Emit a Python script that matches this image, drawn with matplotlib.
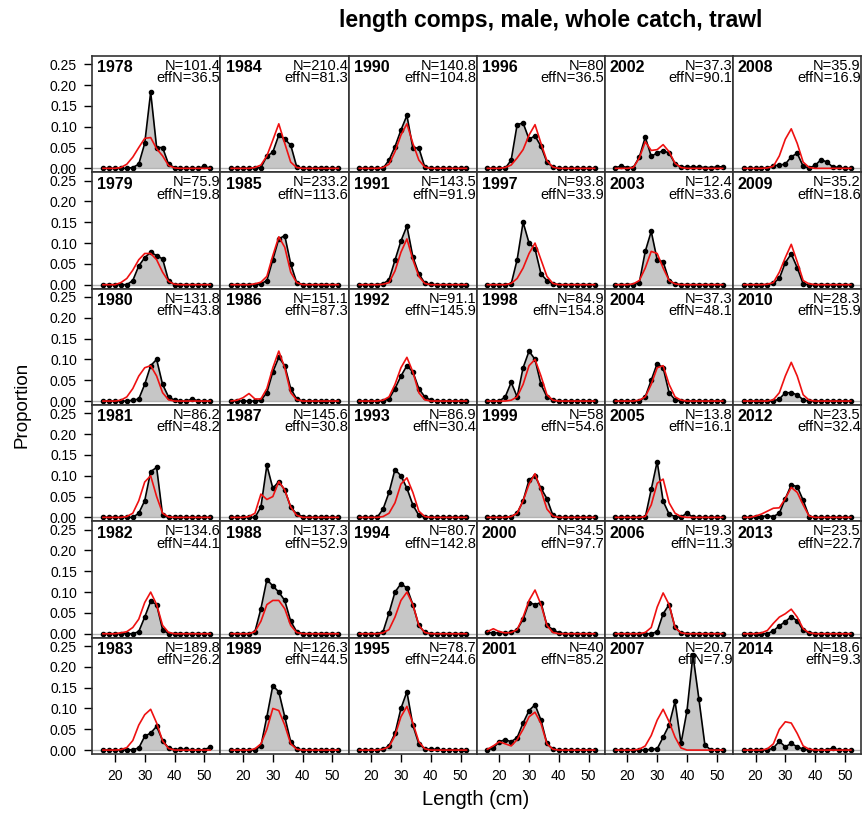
import matplotlib
matplotlib.use('Agg')
import matplotlib.pyplot as plt
from matplotlib.ticker import FormatStrFormatter

plt.rcParams['font.family'] = ['Liberation Sans', 'DejaVu Sans']

# length bins (cm)
bins = [16, 18, 20, 22, 24, 26, 28, 30, 32, 34, 36, 38, 40, 42, 44, 46, 48, 50, 52]

years = [1978, 1979, 1980, 1981, 1982, 1983,
         1984, 1985, 1986, 1987, 1988, 1989,
         1990, 1991, 1992, 1993, 1994, 1995,
         1996, 1997, 1998, 1999, 2000, 2001,
         2002, 2003, 2004, 2005, 2006, 2007,
         2008, 2009, 2010, 2012, 2013, 2014]

n_vals = [101.4, 75.9, 131.8, 86.2, 134.6, 189.8,
          210.4, 233.2, 151.1, 145.6, 137.3, 126.3,
          140.8, 143.5, 91.1, 86.9, 80.7, 78.7,
          80, 93.8, 84.9, 58, 34.5, 40,
          37.3, 12.4, 37.3, 13.8, 19.3, 20.7,
          35.9, 35.2, 28.3, 23.5, 23.5, 18.6]

effn_vals = [36.5, 19.8, 43.8, 48.2, 44.1, 26.2,
             81.3, 113.6, 87.3, 30.8, 52.9, 44.5,
             104.8, 91.9, 145.9, 30.4, 142.8, 244.6,
             36.5, 33.9, 154.8, 54.6, 97.7, 85.2,
             90.1, 33.6, 48.1, 16.1, 11.3, 7.9,
             16.9, 18.6, 15.9, 32.4, 22.7, 9.3]

# observed proportions (one row per year, same order as years)
observed = [
    [0, 0, 0, 0, 0, 0.002, 0.01, 0.06, 0.183, 0.05, 0.05, 0.01, 0.002, 0, 0, 0, 0, 0.005, 0],
    [0, 0, 0, 0, 0, 0.01, 0.045, 0.065, 0.078, 0.07, 0.062, 0.01, 0, 0, 0, 0, 0, 0, 0],
    [0, 0, 0, 0, 0, 0.002, 0.005, 0.04, 0.085, 0.1, 0.04, 0.01, 0.002, 0, 0, 0.005, 0, 0, 0],
    [0, 0, 0, 0, 0, 0, 0.01, 0.04, 0.11, 0.12, 0.005, 0, 0, 0, 0, 0, 0, 0, 0],
    [0, 0, 0, 0, 0, 0, 0.005, 0.04, 0.078, 0.07, 0.01, 0, 0, 0, 0, 0, 0, 0, 0],
    [0, 0, 0, 0, 0, 0.001, 0.005, 0.033, 0.041, 0.057, 0.023, 0.005, 0.001, 0.002, 0.002, 0, 0, 0.001, 0.007],
    [0, 0, 0, 0, 0, 0.002, 0.029, 0.039, 0.08, 0.07, 0.056, 0.004, 0, 0, 0, 0.002, 0, 0, 0],
    [0, 0, 0, 0, 0, 0.002, 0.01, 0.06, 0.11, 0.118, 0.05, 0.005, 0, 0, 0, 0, 0, 0, 0],
    [0, 0, 0, 0, 0, 0.002, 0.02, 0.07, 0.105, 0.085, 0.03, 0.005, 0, 0, 0, 0, 0, 0, 0],
    [0, 0, 0, 0, 0, 0.025, 0.125, 0.07, 0.086, 0.066, 0.025, 0.008, 0.002, 0, 0, 0, 0, 0, 0],
    [0, 0, 0, 0, 0.005, 0.06, 0.13, 0.115, 0.1, 0.08, 0.03, 0.005, 0, 0, 0, 0, 0, 0, 0],
    [0, 0, 0, 0, 0, 0.01, 0.08, 0.155, 0.14, 0.08, 0.02, 0.003, 0, 0, 0, 0, 0, 0, 0],
    [0, 0, 0, 0, 0, 0.02, 0.052, 0.092, 0.127, 0.049, 0.049, 0.003, 0.001, 0, 0, 0, 0, 0, 0],
    [0, 0, 0, 0, 0.002, 0.012, 0.059, 0.105, 0.141, 0.067, 0.026, 0.004, 0.001, 0, 0, 0, 0, 0, 0],
    [0, 0, 0, 0, 0, 0.005, 0.03, 0.06, 0.085, 0.07, 0.03, 0.01, 0.002, 0, 0, 0, 0, 0, 0],
    [0, 0, 0, 0, 0.02, 0.06, 0.115, 0.1, 0.07, 0.03, 0.005, 0, 0, 0, 0, 0, 0, 0, 0],
    [0, 0, 0, 0, 0.005, 0.05, 0.1, 0.12, 0.11, 0.07, 0.02, 0.003, 0, 0, 0, 0, 0, 0, 0],
    [0, 0, 0, 0, 0.002, 0.01, 0.04, 0.1, 0.14, 0.06, 0.015, 0.003, 0.002, 0.002, 0, 0, 0, 0, 0],
    [0, 0, 0, 0, 0.02, 0.105, 0.109, 0.07, 0.078, 0.053, 0.015, 0.003, 0, 0, 0, 0, 0, 0, 0],
    [0, 0, 0, 0, 0.002, 0.06, 0.15, 0.1, 0.086, 0.026, 0.01, 0.002, 0, 0, 0, 0, 0, 0, 0],
    [0, 0, 0, 0.01, 0.045, 0.01, 0.08, 0.12, 0.1, 0.04, 0.01, 0.002, 0, 0, 0, 0, 0, 0, 0],
    [0, 0, 0, 0, 0.002, 0.01, 0.04, 0.09, 0.1, 0.07, 0.045, 0.005, 0, 0, 0, 0, 0, 0, 0],
    [0.003, 0.002, 0.002, 0.002, 0.003, 0.01, 0.035, 0.075, 0.07, 0.075, 0.02, 0.01, 0.002, 0, 0, 0, 0, 0, 0],
    [0, 0.005, 0.02, 0.025, 0.02, 0.03, 0.065, 0.095, 0.109, 0.072, 0.016, 0.002, 0, 0, 0, 0, 0, 0, 0],
    [0.002, 0.005, 0.002, 0.002, 0.027, 0.075, 0.029, 0.037, 0.042, 0.037, 0.011, 0.003, 0.003, 0.003, 0.003, 0.002, 0.002, 0.003, 0.004],
    [0, 0, 0, 0, 0.005, 0.08, 0.128, 0.06, 0.055, 0.01, 0.002, 0, 0, 0, 0, 0, 0, 0, 0],
    [0, 0, 0, 0, 0, 0.01, 0.05, 0.09, 0.08, 0.02, 0.003, 0, 0, 0, 0, 0, 0, 0, 0],
    [0, 0, 0, 0, 0, 0, 0.067, 0.134, 0.039, 0.008, 0.002, 0, 0.011, 0, 0, 0, 0, 0, 0],
    [0, 0, 0, 0, 0, 0, 0, 0.005, 0.048, 0.07, 0.015, 0.002, 0, 0, 0, 0, 0, 0, 0],
    [0, 0, 0, 0, 0, 0, 0.002, 0.003, 0.031, 0.06, 0.117, 0.016, 0.094, 0.228, 0.123, 0.013, 0, 0, 0],
    [0, 0, 0, 0, 0.001, 0.006, 0.008, 0.01, 0.028, 0.036, 0.005, 0.001, 0.007, 0.021, 0.015, 0.003, 0.003, 0, 0],
    [0, 0, 0, 0, 0, 0.004, 0.015, 0.053, 0.074, 0.041, 0.002, 0, 0, 0, 0, 0, 0, 0, 0],
    [0, 0, 0, 0, 0, 0, 0.005, 0.02, 0.02, 0.015, 0.003, 0, 0, 0, 0, 0, 0, 0, 0],
    [0, 0, 0, 0.002, 0.004, 0.002, 0.01, 0.045, 0.078, 0.074, 0.041, 0.002, 0, 0, 0, 0, 0, 0, 0],
    [0, 0, 0, 0, 0, 0.007, 0.019, 0.029, 0.041, 0.031, 0.008, 0.002, 0, 0, 0, 0, 0, 0, 0],
    [0, 0, 0, 0, 0, 0.005, 0.021, 0.008, 0.016, 0.008, 0.002, 0, 0, 0, 0, 0.005, 0, 0, 0],
]

# expected (model fit) proportions
expected = [
    [0, 0, 0, 0.002, 0.01, 0.027, 0.05, 0.072, 0.074, 0.047, 0.03, 0.007, 0.001, 0, 0, 0, 0, 0, 0],
    [0, 0, 0, 0.005, 0.015, 0.035, 0.06, 0.075, 0.075, 0.06, 0.03, 0.008, 0.001, 0, 0, 0, 0, 0, 0],
    [0, 0, 0, 0.002, 0.01, 0.03, 0.06, 0.08, 0.085, 0.06, 0.02, 0.003, 0, 0, 0, 0, 0, 0, 0],
    [0, 0, 0, 0, 0.002, 0.01, 0.04, 0.085, 0.1, 0.05, 0.01, 0.001, 0, 0, 0, 0, 0, 0, 0],
    [0, 0, 0, 0.002, 0.005, 0.015, 0.035, 0.075, 0.1, 0.07, 0.02, 0.003, 0, 0, 0, 0, 0, 0, 0],
    [0, 0, 0, 0.001, 0.006, 0.023, 0.06, 0.085, 0.098, 0.065, 0.022, 0.004, 0, 0, 0, 0, 0, 0, 0],
    [0, 0, 0, 0, 0.002, 0.008, 0.03, 0.068, 0.107, 0.06, 0.015, 0.002, 0, 0, 0, 0, 0, 0, 0],
    [0, 0, 0, 0, 0.002, 0.006, 0.02, 0.07, 0.115, 0.09, 0.03, 0.005, 0, 0, 0, 0, 0, 0, 0],
    [0, 0.002, 0.008, 0.018, 0.005, 0.005, 0.03, 0.08, 0.12, 0.08, 0.02, 0.003, 0, 0, 0, 0, 0, 0, 0],
    [0, 0, 0, 0.002, 0.01, 0.056, 0.043, 0.05, 0.086, 0.066, 0.025, 0.005, 0, 0, 0, 0, 0, 0, 0],
    [0, 0, 0, 0, 0.005, 0.03, 0.07, 0.08, 0.08, 0.06, 0.02, 0.003, 0, 0, 0, 0, 0, 0, 0],
    [0, 0, 0, 0, 0.003, 0.015, 0.05, 0.1, 0.095, 0.06, 0.015, 0.002, 0, 0, 0, 0, 0, 0, 0],
    [0, 0, 0, 0, 0.002, 0.01, 0.04, 0.08, 0.107, 0.06, 0.02, 0.003, 0, 0, 0, 0, 0, 0, 0],
    [0, 0, 0, 0, 0.001, 0.005, 0.033, 0.078, 0.11, 0.06, 0.02, 0.003, 0, 0, 0, 0, 0, 0, 0],
    [0, 0, 0, 0, 0.002, 0.01, 0.04, 0.08, 0.105, 0.07, 0.02, 0.003, 0, 0, 0, 0, 0, 0, 0],
    [0, 0, 0, 0, 0.002, 0.01, 0.035, 0.08, 0.095, 0.06, 0.015, 0.002, 0, 0, 0, 0, 0, 0, 0],
    [0, 0, 0, 0, 0.002, 0.01, 0.04, 0.08, 0.1, 0.07, 0.02, 0.003, 0, 0, 0, 0, 0, 0, 0],
    [0, 0, 0, 0, 0.002, 0.008, 0.035, 0.08, 0.105, 0.065, 0.02, 0.003, 0, 0, 0, 0, 0, 0, 0],
    [0, 0, 0, 0.002, 0.008, 0.025, 0.045, 0.08, 0.105, 0.06, 0.018, 0.003, 0, 0, 0, 0, 0, 0, 0],
    [0, 0, 0, 0, 0.003, 0.015, 0.04, 0.075, 0.1, 0.06, 0.02, 0.003, 0, 0, 0, 0, 0, 0, 0],
    [0, 0, 0, 0, 0.002, 0.01, 0.04, 0.085, 0.1, 0.06, 0.015, 0.002, 0, 0, 0, 0, 0, 0, 0],
    [0, 0, 0, 0, 0.002, 0.01, 0.04, 0.08, 0.105, 0.065, 0.02, 0.003, 0, 0, 0, 0, 0, 0, 0],
    [0.005, 0.012, 0.005, 0.002, 0.003, 0.01, 0.04, 0.08, 0.105, 0.07, 0.02, 0.003, 0, 0, 0, 0, 0, 0, 0],
    [0.002, 0.01, 0.02, 0.015, 0.01, 0.025, 0.05, 0.08, 0.091, 0.064, 0.015, 0.002, 0, 0, 0, 0, 0, 0, 0],
    [0, 0, 0, 0.002, 0.025, 0.064, 0.043, 0.045, 0.057, 0.04, 0.012, 0.002, 0, 0, 0, 0, 0, 0, 0],
    [0, 0, 0, 0.002, 0.01, 0.04, 0.08, 0.075, 0.04, 0.01, 0.002, 0, 0, 0, 0, 0, 0, 0, 0],
    [0, 0, 0, 0, 0.002, 0.01, 0.04, 0.08, 0.085, 0.04, 0.01, 0.002, 0, 0, 0, 0, 0, 0, 0],
    [0, 0, 0, 0, 0, 0.002, 0.03, 0.082, 0.092, 0.035, 0.01, 0.002, 0, 0, 0, 0, 0, 0, 0],
    [0, 0, 0, 0, 0, 0.003, 0.015, 0.064, 0.098, 0.07, 0.015, 0.002, 0, 0, 0, 0, 0, 0, 0],
    [0, 0, 0, 0, 0.002, 0.01, 0.035, 0.072, 0.098, 0.068, 0.031, 0.005, 0, 0, 0, 0, 0, 0, 0],
    [0, 0, 0, 0, 0.001, 0.005, 0.03, 0.07, 0.095, 0.06, 0.015, 0.002, 0, 0, 0, 0, 0, 0, 0],
    [0, 0, 0, 0, 0.001, 0.005, 0.03, 0.065, 0.097, 0.055, 0.01, 0.002, 0, 0, 0, 0, 0, 0, 0],
    [0, 0, 0, 0, 0, 0.003, 0.02, 0.06, 0.093, 0.06, 0.015, 0.002, 0, 0, 0, 0, 0, 0, 0],
    [0, 0, 0.003, 0.008, 0.015, 0.022, 0.023, 0.045, 0.072, 0.06, 0.03, 0.003, 0, 0, 0, 0, 0, 0, 0],
    [0, 0, 0, 0.002, 0.008, 0.025, 0.04, 0.048, 0.059, 0.04, 0.012, 0.002, 0, 0, 0, 0, 0, 0, 0],
    [0, 0, 0, 0, 0.003, 0.015, 0.05, 0.068, 0.065, 0.04, 0.01, 0.002, 0, 0, 0, 0, 0, 0, 0],
]

fig, axes = plt.subplots(6, 6, figsize=(8.64, 8.23), dpi=100, sharex=True, sharey=True)
fig.subplots_adjust(left=0.1068, right=0.9965, top=0.932, bottom=0.0838, wspace=0, hspace=0)

for i, yr in enumerate(years):
    row, col = i % 6, i // 6
    ax = axes[row, col]
    ax.fill_between(bins, observed[i], 0, color='#c6c6c6', lw=0)
    ax.axhline(0, color='#b4b4b4', lw=1)
    ax.plot(bins, observed[i], color='black', lw=1.2, marker='o', ms=3)
    ax.plot(bins, expected[i], color='#ee1111', lw=1.2)

    ax.text(0.04, 0.86, str(yr), transform=ax.transAxes, fontsize=11.5,
            fontweight='bold', va='baseline', ha='left')
    ax.text(0.998, 0.975, f'N={n_vals[i]:g}\neffN={effn_vals[i]:g}',
            transform=ax.transAxes, fontsize=10.5, va='top', ha='right',
            multialignment='right', linespacing=0.85)

    for sp in ax.spines.values():
        sp.set_color('#333333')
        sp.set_linewidth(1.2)
    ax.tick_params(direction='out', length=6, width=1, labelsize=10, pad=5,
                   left=(col == 0), bottom=(row == 5),
                   labelleft=(col == 0), labelbottom=(row == 5))

axes[0, 0].set_xlim(12.4, 55.4)
axes[0, 0].set_ylim(-0.0095, 0.27)
axes[0, 0].set_xticks([20, 30, 40, 50])
axes[0, 0].set_yticks([0, 0.05, 0.10, 0.15, 0.20, 0.25])
axes[0, 0].yaxis.set_major_formatter(FormatStrFormatter('%.2f'))

fig.text(0.637, 0.975, 'length comps, male, whole catch, trawl', ha='center',
         va='center', fontsize=16.5, fontweight='bold')
fig.text(0.0255, 0.508, 'Proportion', rotation=90, ha='center', va='center', fontsize=13.5)
fig.text(0.551, 0.028, 'Length (cm)', ha='center', va='center', fontsize=14.5)

fig.savefig('out.png', dpi=100)
